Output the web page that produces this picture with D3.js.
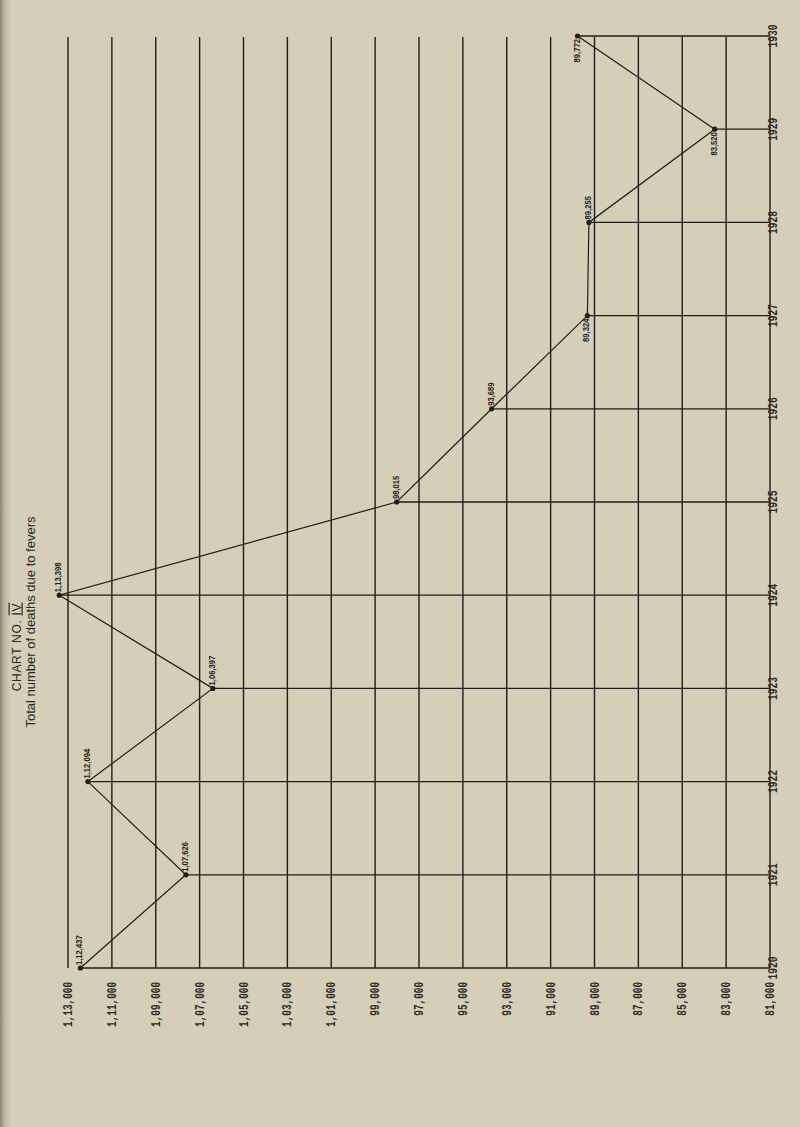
<!DOCTYPE html>
<html>
<head>
<meta charset="utf-8">
<script src="https://cdn.jsdelivr.net/npm/d3@7"></script>
<style>
  html, body { margin: 0; padding: 0; background: #d6d0b9; }
  svg { display: block; }
</style>
</head>
<body>
<svg id="chart" width="800" height="1127"></svg>
<script>
// ---- data ----
const years = [1920, 1921, 1922, 1923, 1924, 1925, 1926, 1927, 1928, 1929, 1930];
const deaths = [112437, 107626, 112094, 106397, 113398, 98015, 93689, 89324, 89255, 83520, 89772];
const deathLabels = ["1,12,437", "1,07,626", "1,12,094", "1,06,397", "1,13,398", "98,015", "93,689", "89,324", "89,255", "83,520", "89,772"];
const valueTicks = [113000, 111000, 109000, 107000, 105000, 103000, 101000, 99000, 97000, 95000, 93000, 91000, 89000, 87000, 85000, 83000, 81000];
const valueTickLabels = ["1,13,000", "1,11,000", "1,09,000", "1,07,000", "1,05,000", "1,03,000", "1,01,000", "99,000", "97,000", "95,000", "93,000", "91,000", "89,000", "87,000", "85,000", "83,000", "81,000"];
const yearLabels = ["1920", "1921", "1922", "1923", "1924", "1925", "1926", "1927", "1928", "1929", "1930"];
// label side relative to the point ("above" = text runs up from point, "below" = text ends just under point)
const labelSide = ["above", "above", "above", "above", "above", "above", "above", "below", "above", "below", "below"];

const svg = d3.select("#chart");
const W = 800, H = 1127;

// paper background with darker binding edge on the left
const defs = svg.append("defs");
const grad = defs.append("linearGradient").attr("id", "edge").attr("x1", 0).attr("x2", 1).attr("y1", 0).attr("y2", 0);
grad.append("stop").attr("offset", "0%").attr("stop-color", "#8f8a78");
grad.append("stop").attr("offset", "35%").attr("stop-color", "#bdb7a0");
grad.append("stop").attr("offset", "100%").attr("stop-color", "#d6d0b9").attr("stop-opacity", 0);
svg.append("rect").attr("width", W).attr("height", H).attr("fill", "#d5cfb7");
svg.append("rect").attr("width", 14).attr("height", H).attr("fill", "url(#edge)");

// ---- scales (chart is drawn rotated: values run left->right, years bottom->top) ----
const x = d3.scaleLinear().domain([113000, 81000]).range([68, 770]);
const y = d3.scaleLinear().domain([1920, 1930]).range([968, 36]);

const ink = "#1f1d1a";
const topY = y(1930) + 1;
const botY = y(1920);

// vertical grid lines (value lines)
svg.append("g").selectAll("line").data(valueTicks).join("line")
  .attr("x1", d => x(d)).attr("x2", d => x(d))
  .attr("y1", topY).attr("y2", botY)
  .attr("stroke", ink).attr("stroke-width", 1.4);

// horizontal year lines from each point to the right border
svg.append("g").selectAll("line").data(years).join("line")
  .attr("x1", (d, i) => x(deaths[i])).attr("x2", x(81000))
  .attr("y1", d => y(d)).attr("y2", d => y(d))
  .attr("stroke", ink).attr("stroke-width", 1.3);

// data line
const pts = years.map((yr, i) => ({ yr, v: deaths[i], lab: deathLabels[i], side: labelSide[i] }));
svg.append("path").datum(pts)
  .attr("d", d3.line().x(d => x(d.v)).y(d => y(d.yr)))
  .attr("fill", "none").attr("stroke", ink).attr("stroke-width", 1.2);

svg.append("g").selectAll("circle").data(pts).join("circle")
  .attr("cx", d => x(d.v)).attr("cy", d => y(d.yr)).attr("r", 2.6).attr("fill", ink);

// point labels (rotated)
svg.append("g").selectAll("text").data(pts).join("text")
  .attr("transform", d => {
    const px = x(d.v) + 2, py = d.side === "above" ? y(d.yr) - 3 : y(d.yr) + 3;
    return `translate(${px},${py}) rotate(-90) scale(0.85,1)`;
  })
  .attr("text-anchor", d => d.side === "above" ? "start" : "end")
  .attr("font-family", "Liberation Sans, Arial, sans-serif")
  .attr("font-weight", "bold")
  .attr("font-size", 9)
  .attr("fill", ink)
  .text(d => d.lab);

// value tick labels below the chart
svg.append("g").selectAll("text").data(valueTicks).join("text")
  .attr("transform", d => `translate(${x(d) + 4},982) rotate(-90) scale(0.78,1)`)
  .attr("text-anchor", "end")
  .attr("font-family", "Liberation Mono, DejaVu Sans Mono, monospace")
  .attr("font-weight", "bold")
  .attr("font-size", 12)
  .attr("fill", "#2a2824")
  .text((d, i) => valueTickLabels[i]);

// year labels on the right
svg.append("g").selectAll("text").data(years).join("text")
  .attr("transform", d => `translate(777,${y(d)}) rotate(-90) scale(0.8,1)`)
  .attr("text-anchor", "middle")
  .attr("font-family", "Liberation Mono, DejaVu Sans Mono, monospace")
  .attr("font-weight", "bold")
  .attr("font-size", 12)
  .attr("fill", "#2a2824")
  .text((d, i) => yearLabels[i]);

// titles (rotated)
const t1 = svg.append("text")
  .attr("transform", "translate(20.5,647) rotate(-90)")
  .attr("text-anchor", "middle")
  .attr("font-family", "Liberation Sans, Arial, sans-serif")
  .attr("font-size", 12)
  .attr("letter-spacing", 0.7)
  .attr("fill", "#2a2824");
t1.append("tspan").text("CHART NO. ");
t1.append("tspan").attr("text-decoration", "underline overline").text("IV");

svg.append("text")
  .attr("transform", "translate(34.5,622) rotate(-90)")
  .attr("text-anchor", "middle")
  .attr("font-family", "Liberation Sans, Arial, sans-serif")
  .attr("font-size", 13)
  .attr("fill", "#2a2824")
  .text("Total number of deaths due to fevers");
</script>
</body>
</html>
